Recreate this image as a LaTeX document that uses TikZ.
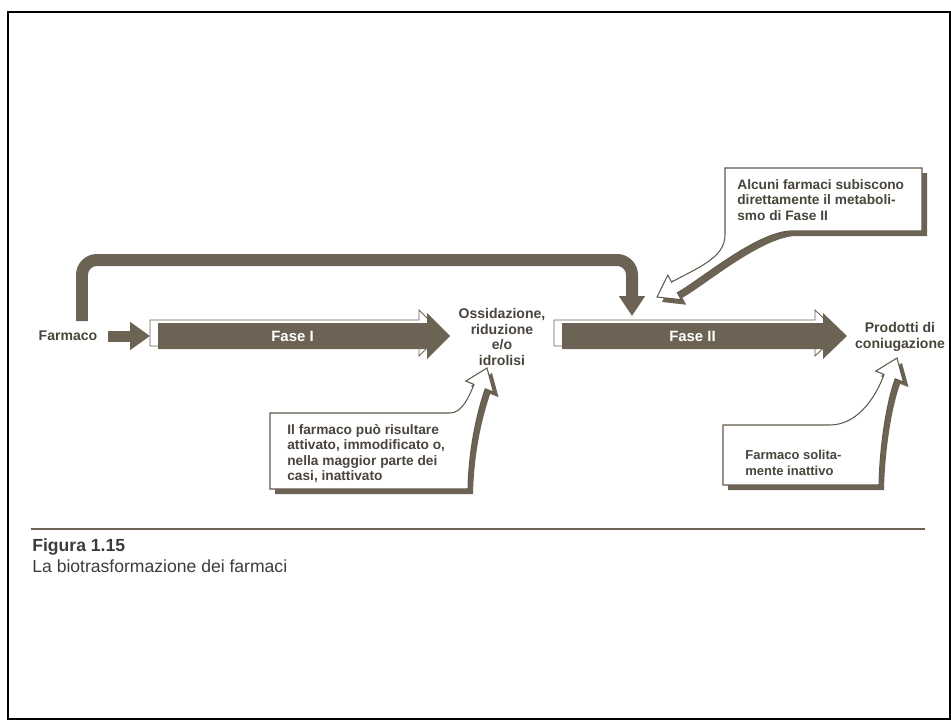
\documentclass[tikz,border=0pt]{standalone}
\usepackage{fontspec}
\setmainfont{Liberation Sans}
\usepackage{tikz}
\usetikzlibrary{positioning}
\usetikzlibrary{calc}
\usetikzlibrary{arrows.meta}

\definecolor{fasecol}{RGB}{108,99,84}
\definecolor{txtcol}{RGB}{74,69,60}
\definecolor{capcol}{RGB}{60,60,60}

\tikzset{
	lab/.style={text=txtcol, font=\fontsize{8}{9}\selectfont\bfseries, align=center, inner sep=0pt},
	note/.style={text=txtcol, font=\fontsize{7.8}{8.8}\selectfont\bfseries, align=left, inner sep=0pt, anchor=north west},
	fat/.style={draw=fasecol, line width=0.24cm, -{Triangle[width=0.5cm,length=0.4cm]}},
	bubble/.style={fill=white, draw=fasecol!90!black, line width=0.6pt, preaction={fill=fasecol, transform canvas={xshift=0.1cm, yshift=-0.1cm}}},
}

\begin{document}
\begin{tikzpicture}[x=0.02cm, y=-0.02cm]
		\useasboundingbox (0,0) rectangle (951,720);
		\draw[line width=1.2pt] (8,12) rectangle (950,719);
		\foreach \xa/\xb/\xc/\nm/\txt in {158/427/450/F1/Fase I, 562/823/847/F2/Fase II} {
			\filldraw[fill=white, draw=fasecol, line width=0.5pt, xshift=-0.16cm, yshift=0.06cm] (\xa,323) -- (\xb,323) -- (\xb,313) -- (\xc,336) -- (\xb,359) -- (\xb,349) -- (\xa,349) -- cycle;
			\fill[fasecol] (\xa,323) -- (\xb,323) -- (\xb,313) -- (\xc,336) -- (\xb,359) -- (\xb,349) -- (\xa,349) -- cycle;
			\node[text=white, font=\fontsize{8.5}{10}\selectfont\bfseries] (\nm) at ({(\xa+\xb)/2},336) {\txt};
		}
		\node[lab] (Farm) at (68,336) {Farmaco};
		\node[lab] (Oss) at (502,337) {Ossidazione,\\riduzione\\e/o\\idrolisi};
		\node[lab] (Prod) at (900,337) {Prodotti di\\coniugazione};
		\coordinate (F1t) at (150,336);
		\coordinate (byS) at (82,321);
		\coordinate (byE) at (632,316);
		\draw[fat, line width=0.22cm, -{Triangle[width=0.54cm,length=0.4cm]}] ([xshift=0.2cm]Farm.east) -- (F1t);
		\draw[fat, rounded corners=0.3cm] (byS) |- ($(byE)+(0,-56)$) -- (byE);
		\path[bubble] (725,168) -- (922,168) -- (922,231) -- (790,231) .. controls (755,233) and (699,281) .. (677.4,292.7) -- (681.2,299.7) -- (657,297) -- (667.8,275.1) -- (671.6,282.1) .. controls (697,268) and (725,258) .. (725,235) -- cycle;
		\path[bubble] (270,413) -- (450,413) .. controls (462,413) and (469,397) .. (474,384.4) -- (465.7,381.1) -- (487,368) -- (493.5,392.1) -- (485.2,388.8) .. controls (478,410) and (469,445) .. (468,489) -- (270,489) -- cycle;
		\path[bubble] (723,425) -- (830,425) .. controls (860,425) and (878,392) .. (884,374.4) -- (875.7,371.1) -- (897,358) -- (903.5,382.1) -- (895.2,378.8) .. controls (888,398) and (880,440) .. (879,485) -- (723,485) -- cycle;
		\node[note] (n1) at (737,179) {Alcuni farmaci subiscono\\direttamente il metaboli-\\smo di Fase II};
		\node[note] (n2) at (287,424) {Il farmaco può risultare\\attivato, immodificato o,\\nella maggior parte dei\\casi, inattivato};
		\node[note, font=\fontsize{7.4}{8.8}\selectfont\bfseries] (n3) at (745,450) {Farmaco solita-\\mente inattivo};
		\draw[fasecol, line width=1.2pt] (31,529) -- (925,529);
		\node[anchor=west, inner sep=0pt, text=capcol, font=\fontsize{10}{11}\selectfont\bfseries] (fig) at (32,547) {Figura 1.15};
		\node[below right=0.07cm and 0cm of fig.south west, inner sep=0pt, text=capcol, font=\fontsize{10}{11}\selectfont] (cap) {La biotrasformazione dei farmaci};
	\end{tikzpicture}
\end{document}
